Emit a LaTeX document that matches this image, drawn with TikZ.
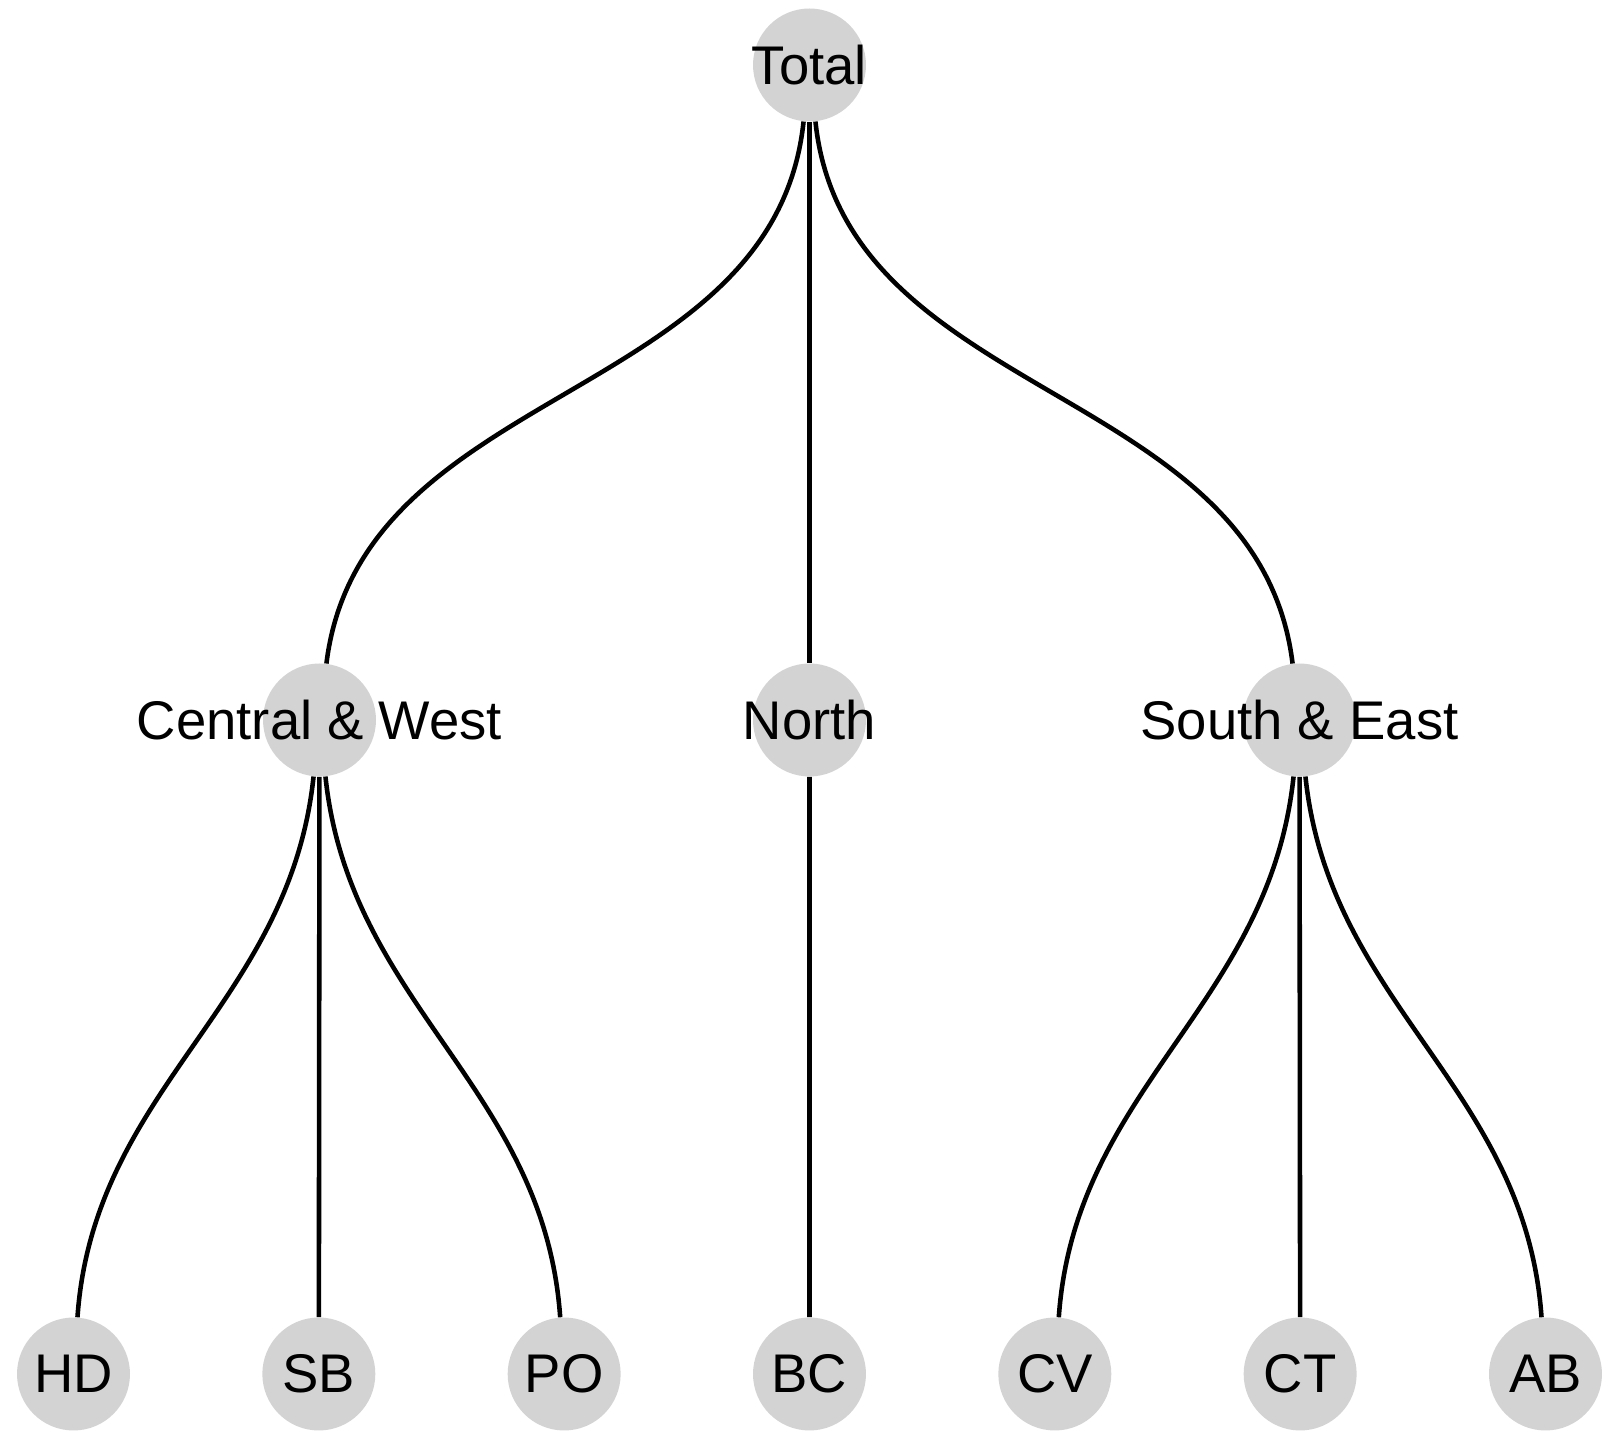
\documentclass[tikz,border=0pt]{standalone}
\usepackage{fontspec}
\setmainfont{Liberation Sans}
\usepackage{xcolor}
\usetikzlibrary{positioning}
\definecolor{nodegray}{HTML}{D3D3D3}

\begin{document}
\begin{tikzpicture}[
    x=0.02cm, y=0.02cm,
    region/.style={circle, fill=nodegray, minimum size=2.26cm, inner sep=0pt,
        label={[font=\fontsize{31}{37}\selectfont, inner sep=0pt]center:#1}},
    link/.style={line width=2.6pt, black}
]
\useasboundingbox (0,0) rectangle (1620,1440);

% Root
\node[region=Total] (total) at (809.5,1375) {};

% Regions
\node[region=Central \& West] (cw) at (319.5,720) {};
\node[region=North] (north) at (809.5,720) {};
\node[region=South \& East] (se) at (1299.5,720) {};

% Districts
\foreach \name/\lab [count=\i from 0] in {hd/HD, sb/SB, po/PO, bc/BC, cv/CV, ct/CT, ab/AB}
    \node[region=\lab] (\name) at (73.5+245.33*\i,66) {};

% Links from root
\draw[link] (total) to[out=-96, in=83] (cw);
\draw[link] (total) -- (north);
\draw[link] (total) to[out=-84, in=97] (se);

% Links to districts
\draw[link] (cw) to[out=-96, in=86] (hd);
\draw[link] (cw) -- (sb);
\draw[link] (cw) to[out=-84, in=94] (po);
\draw[link] (north) -- (bc);
\draw[link] (se) to[out=-96, in=86] (cv);
\draw[link] (se) -- (ct);
\draw[link] (se) to[out=-84, in=94] (ab);

\end{tikzpicture}
\end{document}
